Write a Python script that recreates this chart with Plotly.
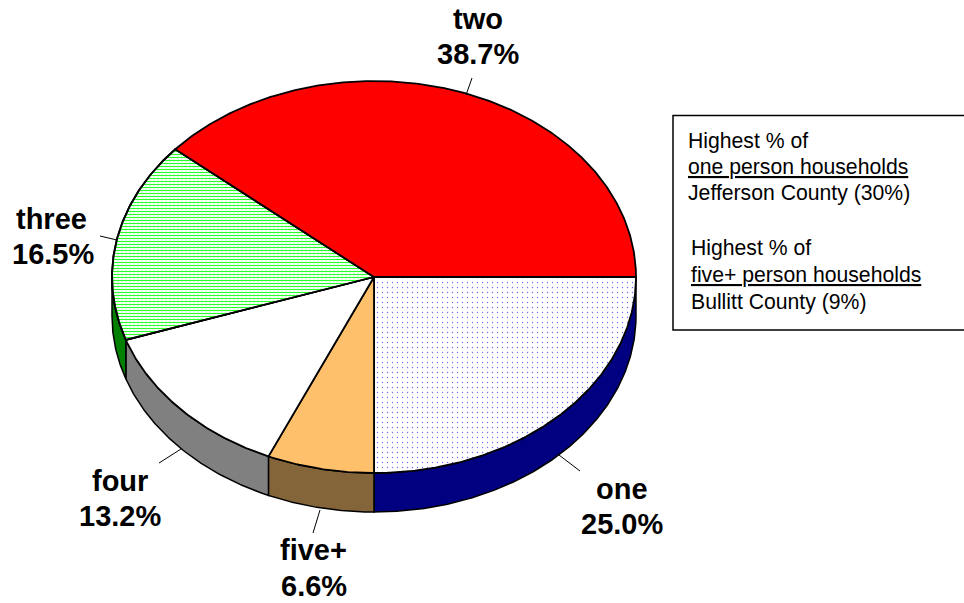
import numpy as np
import plotly.graph_objects as go

categories = ["one", "five+", "four", "three", "two"]
values = [25.0, 6.6, 13.2, 16.5, 38.7]
top_colors = ["#ffffff", "#ffc06c", "#ffffff", "#ffffff", "#ff0000"]
wall_colors = ["#000080", "#836539", "#808080", "#008000", "#c00000"]
label_pos = [(622, 622, 489, 524), (313, 314, 550, 586), (120, 120, 481, 516), (51, 53, 219, 254), (478, 478, 19, 54)]
leaders = [((559, 455), (580, 471)), ((320, 510), (313, 533)), ((181, 449), (159, 463)),
           ((117, 240), (100, 236)), ((466, 95), (472, 78))]
box_lines = [
    ("Highest % of", 686, 141), ("<u>one person households</u>", 686, 167), ("Jefferson County (30%)", 686, 193),
    ("Highest % of", 689, 248), ("<u>five+ person households</u>", 689, 275), ("Bullitt County (9%)", 689, 302),
]

CX, CY, RX, RY, DEPTH = 374, 277, 262, 196, 39
FONT = "Liberation Sans, Arial, sans-serif"


def arc(t0, t1):
    t = np.radians(np.linspace(t0, t1, max(2, int(abs(t1 - t0) * 2) + 1)))
    return CX + RX * np.cos(t), CY + RY * np.sin(t)


fig = go.Figure()
edges = np.concatenate([[0], np.cumsum(values)]) * 3.6


def poly(x, y, color, pattern=None, lw=1.5):
    fig.add_trace(go.Scatter(x=list(x), y=list(y), mode="lines", fill="toself", fillcolor=color,
                             fillpattern=pattern, line=dict(color="#000000", width=lw),
                             hoverinfo="skip", showlegend=False))


# side walls (front half of the rim only)
for i in range(len(values)):
    a, b = edges[i], min(edges[i + 1], 180)
    if a >= 180:
        continue
    x, y = arc(a, b)
    poly(np.r_[x, x[::-1], x[0]], np.r_[y, y[::-1] + DEPTH, y[0]], wall_colors[i])

# top faces
patterns = {
    0: dict(shape=".", fgcolor="#6a6aff", bgcolor="#ffffff", size=5, solidity=0.06, fillmode="replace"),
    3: dict(shape="-", fgcolor="#22ff22", bgcolor="#ffffff", size=3, solidity=0.34, fillmode="replace"),
}
overlay = dict(shape="|", fgcolor="#66ff66", bgcolor="rgba(0,0,0,0)", size=4, solidity=0.2, fgopacity=0.5, fillmode="overlay")
for i in range(len(values)):
    x, y = arc(edges[i], edges[i + 1])
    px = np.r_[CX, x, CX]
    py = np.r_[CY, y, CY]
    poly(px, py, top_colors[i], patterns.get(i), lw=1.8)
    if i == 3:
        poly(px, py, "rgba(0,0,0,0)", overlay, lw=1.8)

annotations = []
for cat, val, (x1, x2, y1, y2) in zip(categories, values, label_pos):
    annotations.append(dict(x=x1, y=y1, text=cat, showarrow=False, xanchor="center", yanchor="middle",
                            font=dict(family=FONT, size=29, color="#000000", weight="bold")))
    annotations.append(dict(x=x2, y=y2, text=f"{val:.1f}%", showarrow=False, xanchor="center", yanchor="middle",
                            font=dict(family=FONT, size=29, color="#000000", weight="bold")))
for text, x, y in box_lines:
    annotations.append(dict(x=x, y=y, text=text, showarrow=False, xanchor="left", yanchor="middle",
                            font=dict(family=FONT, size=21.2, color="#000000")))

shapes = [dict(type="line", x0=p[0], y0=p[1], x1=q[0], y1=q[1], line=dict(color="#000000", width=1))
          for p, q in leaders]
shapes.append(dict(type="rect", x0=673, y0=115.5, x1=970, y1=330, line=dict(color="#000000", width=1.5),
                   fillcolor="rgba(0,0,0,0)"))

fig.update_layout(
    width=964, height=603, margin=dict(l=0, r=0, t=0, b=0),
    paper_bgcolor="#ffffff", plot_bgcolor="#ffffff", showlegend=False,
    xaxis=dict(range=[0, 964], visible=False, fixedrange=True),
    yaxis=dict(range=[603, 0], visible=False, fixedrange=True),
    annotations=annotations, shapes=shapes,
)
fig.write_html("out.html", config=dict(displayModeBar=False),
               post_script="document.body.style.margin='0';document.documentElement.style.overflow='hidden';")
